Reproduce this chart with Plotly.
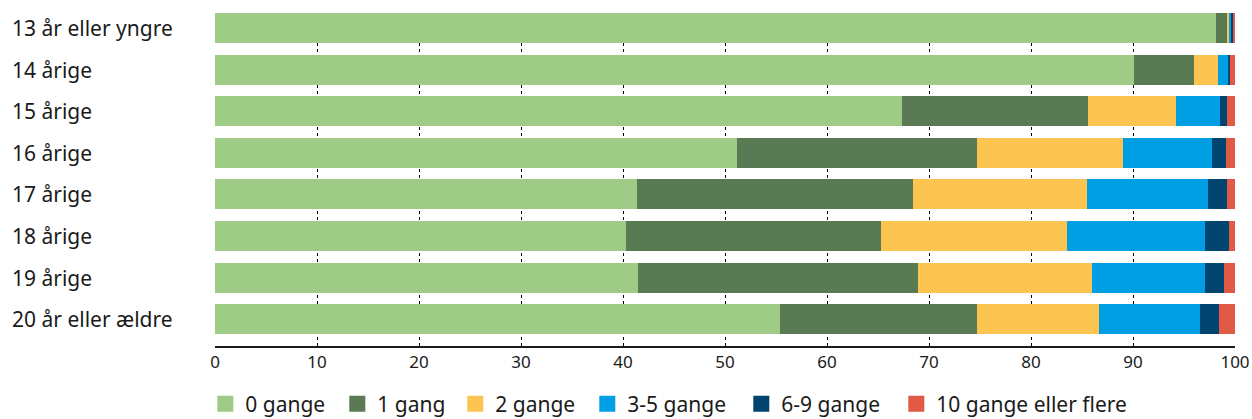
import plotly.graph_objects as go

categories = ["13 år eller yngre", "14 årige", "15 årige", "16 årige",
              "17 årige", "18 årige", "19 årige", "20 år eller ældre"]
series_names = ["0 gange", "1 gang", "2 gange", "3-5 gange", "6-9 gange", "10 gange eller flere"]
v0 = [98.1, 90.1, 67.4, 51.2, 41.4, 40.3, 41.5, 55.4]
v1 = [1.1, 5.9, 18.2, 23.5, 27.0, 25.0, 27.4, 19.3]
v2 = [0.2, 2.3, 8.6, 14.3, 17.1, 18.2, 17.1, 12.0]
v3 = [0.3, 1.1, 4.3, 8.7, 11.9, 13.6, 11.1, 9.9]
v4 = [0.1, 0.1, 0.7, 1.4, 1.8, 2.3, 1.8, 1.8]
v5 = [0.2, 0.5, 0.8, 0.9, 0.8, 0.6, 1.1, 1.6]
series_values = [v0, v1, v2, v3, v4, v5]
colors = ["#9ECB86", "#5A7A53", "#FCC551", "#009FE3", "#00446F", "#E05A46"]
x_ticks = [0, 10, 20, 30, 40, 50, 60, 70, 80, 90, 100]
grid_vals = [10, 20, 30, 40, 50, 60, 70, 80, 90]

FONT = "Noto Sans"
TXT = "#1a1a1a"
W, H = 1252, 419
legend_left_px = [217, 349, 467, 599, 753, 908]  # swatch left edges

fig = go.Figure()
for name, vals, col in zip(series_names, series_values, colors):
    fig.add_trace(go.Bar(
        y=categories, x=vals, name=name, orientation="h",
        marker=dict(color=col, line=dict(width=0)),
        showlegend=False, hoverinfo="x+y+name",
    ))

legend_layouts = {}
for i, (name, col, lx) in enumerate(zip(series_names, colors, legend_left_px)):
    lname = "legend" if i == 0 else f"legend{i + 1}"
    fig.add_trace(go.Scatter(
        x=[None], y=[None], mode="markers", name=name,
        marker=dict(symbol="square", size=18, color=col),
        showlegend=True, legend=lname,
    ))
    legend_layouts[lname] = dict(
        orientation="h", xref="container", yref="container",
        x=(lx - 11.7) / W, y=(H - 404) / H, xanchor="left", yanchor="middle",
        font=dict(family=FONT, size=21, color=TXT),
        itemwidth=30, bgcolor="rgba(0,0,0,0)",
    )

for c in categories:
    fig.add_annotation(
        x=0, xref="paper", y=c, yref="y", xshift=-205, xanchor="left",
        text=c, showarrow=False, font=dict(family=FONT, size=21, color=TXT),
    )

fig.update_layout(
    width=W, height=H,
    margin=dict(l=215, r=17, t=13, b=73, autoexpand=False),
    barmode="stack", bargap=0.277,
    paper_bgcolor="white", plot_bgcolor="white",
    font=dict(family=FONT, color=TXT),
    xaxis=dict(
        range=[0, 100], tickvals=x_ticks, ticktext=[str(t) for t in x_ticks],
        showgrid=False, zeroline=False, automargin=False,
        showline=True, linecolor="#1a1a1a", linewidth=1.5,
        ticks="", tickfont=dict(family=FONT, size=17, color=TXT),
        fixedrange=True,
    ),
    xaxis2=dict(
        overlaying="x", matches="x", range=[0, 100], tickvals=grid_vals,
        showgrid=True, gridcolor="#000000", gridwidth=1, griddash="dot",
        showticklabels=False, ticks="", showline=False, zeroline=False,
        automargin=False,
    ),
    yaxis=dict(
        categoryorder="array", categoryarray=categories,
        range=[7.643, -0.3615], showticklabels=False, showgrid=False,
        zeroline=False, showline=False, ticks="", automargin=False,
    ),
    **legend_layouts,
)
# a hidden trace on xaxis2 so its gridlines are drawn
fig.add_trace(go.Scatter(x=[None], y=[None], xaxis="x2", yaxis="y",
                         showlegend=False, hoverinfo="skip"))

fig.write_html("out.html", config={"displayModeBar": False},
               post_script="document.body.style.margin='0';")
